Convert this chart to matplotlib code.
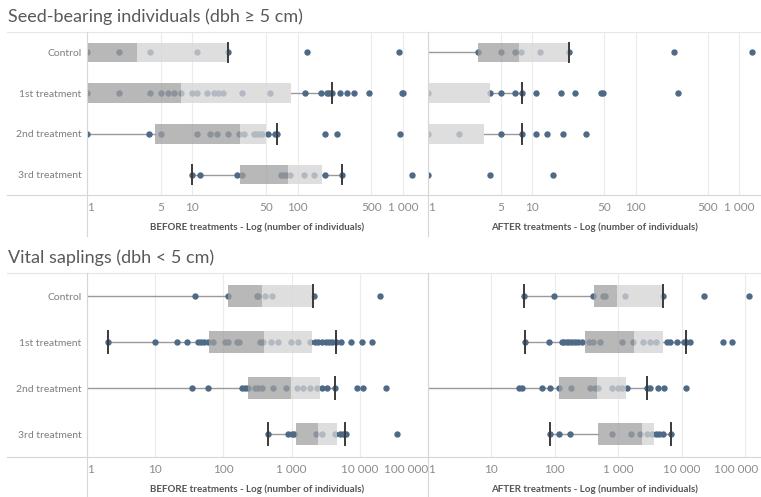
import matplotlib
matplotlib.use("Agg")
import matplotlib.pyplot as plt
from matplotlib.lines import Line2D
from matplotlib.ticker import NullLocator
from matplotlib.transforms import ScaledTranslation

plt.rcParams["font.family"] = ["Lato", "DejaVu Sans"]

W, H = 761, 497

ROWS = ["Control", "1st treatment", "2nd treatment", "3rd treatment"]

# zero counts: they sit below the floor of the log axis
ZERO = 0.5

# Seed-bearing, BEFORE treatments
seed_before_lo = [ZERO, ZERO, ZERO, 10]
seed_before_q1 = [ZERO, ZERO, 4.4, 28]
seed_before_med = [3, 7.8, 28, 81]
seed_before_q3 = [22, 87, 50, 168]
seed_before_hi = [22, 211, 63.5, 264]
seed_before_pts = [
    [1, 2, 4, 11, 22, 123, 920],
    [1, 2, 4, 5, 5.9, 6.7, 7.8, 10, 11, 13.8, 16, 17.5, 19.4, 29.5, 55,
     116, 166, 188, 197, 211, 251, 291, 342, 473, 970, 1000],
    [1, 3.9, 5, 11, 14.7, 17, 21.7, 27.4, 30.6, 38.8, 40, 42.5, 45.7, 52.7,
     61, 63.5, 183, 233, 935],
    [10, 11.8, 26.6, 29.5, 69.6, 74, 78, 84, 114, 142, 183, 264, 1218],
]

# Seed-bearing, AFTER treatments
seed_after_lo = [ZERO, ZERO, ZERO, ZERO]
seed_after_q1 = [3, ZERO, ZERO, ZERO]
seed_after_med = [7.5, ZERO, ZERO, ZERO]
seed_after_q3 = [22.8, 4, 3.5, ZERO]
seed_after_hi = [22.8, 8, 8, ZERO]
seed_after_pts = [
    [3, 5, 6.9, 7.9, 11.9, 22.8, 235, 1340],
    [1, 4, 5, 6.9, 8, 11, 19, 26, 46, 49, 254],
    [1, 2, 5, 8, 11, 14, 20, 33],
    [1, 4, 16],
]

# Vital saplings, BEFORE treatments
sap_before_lo = [ZERO, 2, ZERO, 455]
sap_before_q1 = [118, 62, 227, 1160]
sap_before_med = [364, 397, 980, 2465]
sap_before_q3 = [2080, 2010, 2600, 4630]
sap_before_hi = [2080, 4430, 4340, 6150]
sap_before_pts = [
    [38, 118, 314, 324, 408, 520, 2100, 19800],
    [2, 10, 21, 29.5, 42, 46.8, 52.5, 58.6, 71, 105, 115, 156, 171, 344, 385,
     500, 640, 970, 1250, 1850, 2200, 2400, 2760, 3170, 3530, 3950, 4430,
     5250, 7340, 10900, 15300],
    [35, 58.6, 185, 207, 232, 290, 324, 364, 540, 820, 1190, 1480, 1850,
     2370, 2760, 3280, 4340, 9000, 11200, 24000],
    [455, 877, 1000, 1090, 2250, 2760, 4340, 5130, 5760, 6200, 35500],
]

# Vital saplings, AFTER treatments
sap_after_lo = [33, 34, ZERO, 84]
sap_after_q1 = [410, 300, 117, 480]
sap_after_med = [944, 1790, 470, 2340]
sap_after_q3 = [5150, 5130, 1310, 3700]
sap_after_hi = [5150, 11600, 2860, 6700]
sap_after_pts = [
    [33, 98, 403, 580, 617, 1270, 5150, 22700, 116000],
    [34, 81, 128, 141, 154, 168, 184, 207, 234, 265, 345, 403, 512, 1140,
     1690, 2490, 3150, 4000, 5780, 6530, 8500, 11000, 11600, 13400, 45300,
     61600],
    [27.4, 30.6, 63, 84, 117, 179, 357, 427, 485, 790, 1000, 1140, 1360,
     2860, 3150, 4280, 5200, 11600],
    [84, 116, 173, 790, 1570, 2200, 2800, 3380, 3930, 4400, 5130, 6700],
]

seed_ticks = [1, 5, 10, 50, 100, 500, 1000]
seed_tick_labels = ["1", "5", "10", "50", "100", "500", "1 000"]
sap_ticks = [1, 10, 100, 1000, 10000, 100000]
sap_tick_labels = ["1", "10", "100", "1 000", "10 000", "100 000"]

DOT = "#4e6a87"
BOX_DARK = "#a0a0a0"
BOX_LIGHT = "#d4d4d4"
WHISK = "#9a9a9a"
CAP = "#3a3a3a"
GRID = "#ececec"
FRAME = "#d6d6d6"


def px_rect(x0, y0, x1, y1):
    return [x0 / W, 1 - y1 / H, (x1 - x0) / W, (y1 - y0) / H]


def draw_panel(ax, lo, q1, med, q3, hi, pts, xlim, ticks, tick_labels,
               xlabel, show_rows):
    ax.set_xscale("log")
    bh = 0.48
    for i in range(len(ROWS)):
        ax.plot(pts[i], [i] * len(pts[i]), "o", color=DOT, ms=4.6, mew=0,
                zorder=2)
        ax.plot([lo[i], q1[i]], [i, i], color=WHISK, lw=1, zorder=1)
        ax.plot([q3[i], hi[i]], [i, i], color=WHISK, lw=1, zorder=1)
        ax.barh(i, med[i] - q1[i], left=q1[i], height=bh, color=BOX_DARK,
                alpha=0.75, lw=0, zorder=3)
        ax.barh(i, q3[i] - med[i], left=med[i], height=bh, color=BOX_LIGHT,
                alpha=0.75, lw=0, zorder=3)
        for v in (lo[i], hi[i]):
            if v > ZERO:
                ax.plot([v, v], [i - bh / 2, i + bh / 2], color=CAP, lw=1.4,
                        zorder=4)

    ax.set_xlim(*xlim)
    ax.set_ylim(len(ROWS) - 0.5, -0.5)
    ax.xaxis.set_minor_locator(NullLocator())
    ax.set_xticks(ticks)
    ax.set_xticklabels(tick_labels)
    labels = ax.get_xticklabels()
    labels[0].set_ha("left")
    ax.tick_params(axis="x", length=0, pad=5, labelsize=8.5,
                   labelcolor="#8c8c8c")
    ax.grid(axis="x", color=GRID, lw=0.8)
    ax.set_axisbelow(True)
    for s in ax.spines.values():
        s.set_visible(False)
    ax.set_xlabel(xlabel, fontsize=7, fontweight="bold", color="#555555",
                  labelpad=7)
    if show_rows:
        ax.set_yticks(range(len(ROWS)))
        ax.set_yticklabels(ROWS)
        ax.tick_params(axis="y", length=0, pad=4, labelsize=7.5,
                       labelcolor="#7f7f7f")
    else:
        ax.set_yticks([])
    ax.patch.set_alpha(0)
    return labels


fig = plt.figure(figsize=(W / 100, H / 100), dpi=100)

before_lbl = "BEFORE treatments - Log (number of individuals)"
after_lbl = "AFTER treatments - Log (number of individuals)"

ax_tl = fig.add_axes(px_rect(87, 32, 428, 195))
draw_panel(ax_tl, seed_before_lo, seed_before_q1, seed_before_med,
           seed_before_q3, seed_before_hi, seed_before_pts, (1, 1720),
           seed_ticks, seed_tick_labels, before_lbl, True)

ax_tr = fig.add_axes(px_rect(428, 32, 761, 195))
draw_panel(ax_tr, seed_after_lo, seed_after_q1, seed_after_med,
           seed_after_q3, seed_after_hi, seed_after_pts, (1, 1620),
           seed_ticks, seed_tick_labels, after_lbl, False)

ax_bl = fig.add_axes(px_rect(87, 273, 428, 457))
lbl = draw_panel(ax_bl, sap_before_lo, sap_before_q1, sap_before_med,
                 sap_before_q3, sap_before_hi, sap_before_pts, (1, 100000),
                 sap_ticks, sap_tick_labels, before_lbl, True)
lbl[-1].set_ha("right")

ax_br = fig.add_axes(px_rect(428, 273, 761, 457))
lbl = draw_panel(ax_br, sap_after_lo, sap_after_q1, sap_after_med,
                 sap_after_q3, sap_after_hi, sap_after_pts, (1, 178000),
                 sap_ticks, sap_tick_labels, after_lbl, False)
# keep the last label inside the figure
lbl[-1].set_transform(lbl[-1].get_transform()
                      + ScaledTranslation(-9 / 100, 0, fig.dpi_scale_trans))


def hline(y, color=FRAME):
    fig.add_artist(Line2D([7 / W, 1], [1 - y / H, 1 - y / H],
                          transform=fig.transFigure, color=color, lw=0.8))


def vline(x, y0, y1):
    fig.add_artist(Line2D([x / W, x / W], [1 - y0 / H, 1 - y1 / H],
                          transform=fig.transFigure, color=FRAME, lw=0.8))


hline(32, "#e6e6e6")
hline(195)
hline(273, "#e6e6e6")
hline(457)
for x in (87, 428):
    vline(x, 32, 236)
    vline(x, 273, 497)

fig.text(8 / W, 1 - 17 / H, "Seed-bearing individuals (dbh ≥ 5 cm)",
         fontsize=13, color="#595959", va="center", ha="left")
fig.text(8 / W, 1 - 258 / H, "Vital saplings (dbh < 5 cm)",
         fontsize=13, color="#595959", va="center", ha="left")

fig.savefig("out.png", dpi=100)
